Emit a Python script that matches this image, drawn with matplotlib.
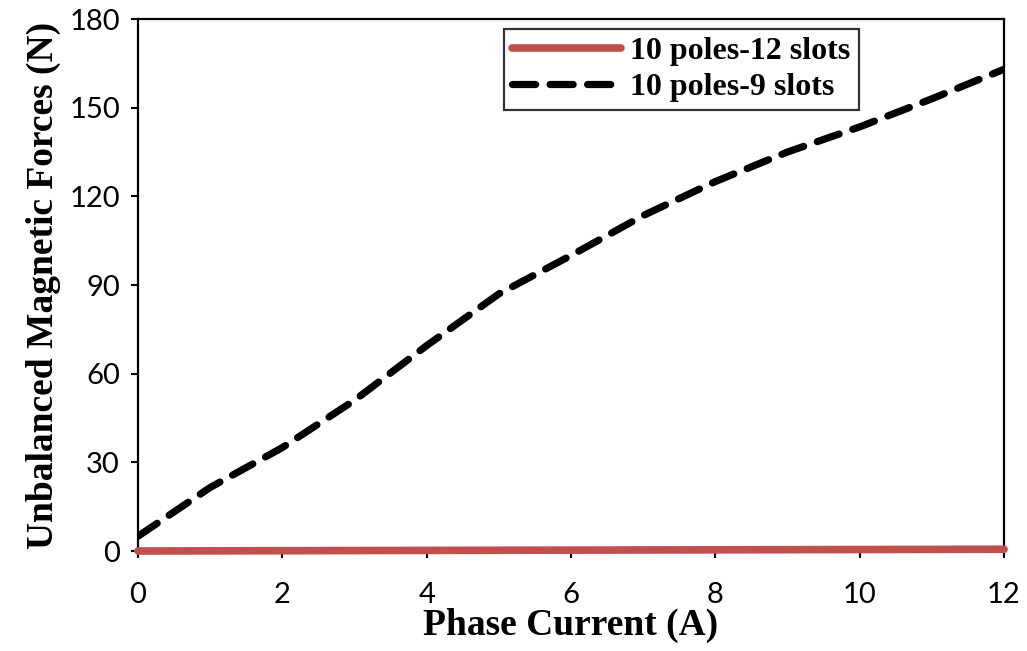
import numpy as np
import matplotlib
matplotlib.use("Agg")
import matplotlib.pyplot as plt

# phase current (A)
current = [0, 1, 2, 3, 4, 5, 6, 7, 8, 9, 10, 11, 12]

# unbalanced magnetic force (N)
force_10p12s = [0, 0.05, 0.1, 0.15, 0.2, 0.25, 0.3, 0.35, 0.4, 0.45, 0.5, 0.55, 0.6]
force_10p9s = [5, 21.5, 35, 51, 69.5, 87, 100, 113.5, 125, 135, 143.5, 153, 163]

label_12s = "10 poles-12 slots"
label_9s = "10 poles-9 slots"

fig = plt.figure(figsize=(10.27, 6.51), dpi=100)
ax = fig.add_axes([0.1344, 0.1536, 0.8432, 0.8172])

ax.plot(current, force_10p12s, color="#C0504D", lw=5.5, solid_capstyle="round",
        label=label_12s, clip_on=False, zorder=5)
ax.plot(current, force_10p9s, color="black", lw=5.2, dashes=(3.2, 2.0),
        dash_capstyle="round", label=label_9s)

ax.set_xlim(0, 12)
ax.set_ylim(0, 180)
ax.set_xticks(np.arange(0, 13, 2))
ax.set_yticks(np.arange(0, 181, 30))

for s in ax.spines.values():
    s.set_linewidth(1.6)
ax.tick_params(direction="out", length=5, width=1.5, labelsize=21, pad=8)
ax.tick_params(axis="x", pad=17)
for t in ax.get_xticklabels() + ax.get_yticklabels():
    t.set_fontfamily("Lato")

serif = "Liberation Serif"
ax.set_xlabel("Phase Current (A)", fontsize=27, fontweight="bold",
              fontfamily=serif, labelpad=0)
ax.set_ylabel("Unbalanced Magnetic Forces (N)", fontsize=27, fontweight="bold",
              fontfamily=serif, labelpad=6)

leg = ax.legend(loc="upper right", bbox_to_anchor=(0.832, 0.982),
                prop={"family": serif, "weight": "bold", "size": 23},
                frameon=True, fancybox=False, handlelength=3.4,
                borderpad=0.25, labelspacing=0.2, handletextpad=0.3,
                borderaxespad=0)
leg.get_frame().set_edgecolor("black")
leg.get_frame().set_linewidth(1.6)

fig.savefig("out.png", dpi=100)
